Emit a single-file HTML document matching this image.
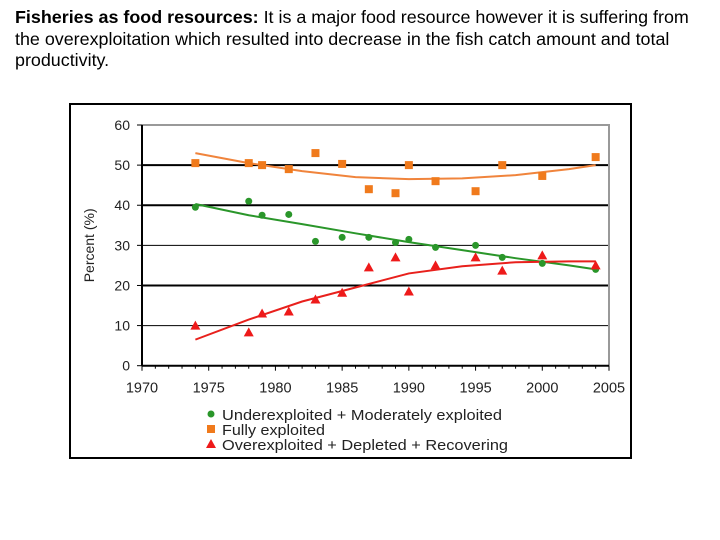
<!DOCTYPE html>
<html><head><meta charset="utf-8"><style>
body{margin:0;width:720px;height:540px;background:#fff;overflow:hidden;font-family:"Liberation Sans",Arial,sans-serif}
#txt{position:absolute;left:15px;top:7px;white-space:nowrap;font-size:17.9px;line-height:21.5px;color:#000}
#box{position:absolute;left:69px;top:103px;width:559px;height:352px;border:2px solid #000}
svg{position:absolute;left:0;top:0}
</style></head><body>
<div id="txt"><b>Fisheries as food resources:</b> It is a major food resource however it is suffering from<br>the overexploitation which resulted into decrease in the fish catch amount and total<br>productivity.</div>
<div id="box"></div>
<svg id="chart" width="720" height="540"></svg>
<script>
const years=[1974,1978,1979,1981,1983,1985,1987,1989,1990,1992,1995,1997,2000,2004];
const under=[39.5,41,37.5,37.7,31,32,32,30.7,31.5,29.5,30,27,25.5,24];
const fully=[50.5,50.5,50,49,53,50.3,44,43,50,46,43.5,50,47.3,52];
const over=[10,8.3,13,13.5,16.5,18.2,24.5,27,18.5,25,27,23.7,27.5,25];
const trendYears=[1974,1978,1982,1986,1990,1994,1998,2002,2004];
const underTrend=[40.3,37.5,35.3,33,30.8,28.8,26.8,25,24];
const fullyTrend=[53,50.5,48.5,47,46.5,46.7,47.5,49,50];
const overTrend=[6.5,11.5,16,19.5,23,24.8,25.8,26,26];
const xTicks=[1970,1975,1980,1985,1990,1995,2000,2005];
const yTicks=[0,10,20,30,40,50,60];
const X=v=>142+(v-1970)*(609-142)/35;
const Y=v=>365.7-v*(365.7-125)/60;
const svg=document.getElementById('chart');const NS='http://www.w3.org/2000/svg';
function mk(t,a,p){const e=document.createElementNS(NS,t);for(const k in a)e.setAttribute(k,a[k]);(p||svg).appendChild(e);return e;}
yTicks.forEach(v=>{if(v===0||v===60)return;const g=mk('line',{x1:X(1970),x2:X(2005),y1:Y(v),y2:Y(v),stroke:'#000','stroke-width':(v===10||v===30)?1:2});

});
const frame=mk('path',{d:`M${X(1970)},${Y(60)}H${X(2005)}V${Y(0)}`,fill:'none',stroke:'#999','stroke-width':2});


const ya=mk('line',{x1:X(1970),x2:X(1970),y1:Y(60),y2:Y(0),stroke:'#000','stroke-width':2});


const xa=mk('line',{x1:X(1970),x2:X(2005),y1:Y(0),y2:Y(0),stroke:'#000','stroke-width':2});


for(let y=1970;y<=2005;y++){mk('line',{x1:X(y),x2:X(y),y1:Y(0),y2:Y(0)+(y%5?3:5),stroke:'#000','stroke-width':1});}
yTicks.forEach(v=>{mk('line',{x1:X(1970)-5,x2:X(1970),y1:Y(v),y2:Y(v),stroke:'#000'});
const t=mk('text',{x:X(1970)-12,y:Y(v)+5,'text-anchor':'end','font-size':14,fill:'#222'});t.textContent=v;

});
xTicks.forEach(v=>{const t=mk('text',{x:X(v),y:Y(0)+27,'text-anchor':'middle','font-size':14.5,fill:'#222'});t.textContent=v;

});
const yt=mk('text',{x:0,y:0,transform:`translate(94,${Y(30)}) rotate(-90)`,'text-anchor':'middle','font-size':14,fill:'#222'});yt.textContent='Percent (%)';


function trend(vals,c,n){const p=mk('polyline',{points:trendYears.map((y,i)=>X(y)+','+Y(vals[i])).join(' '),fill:'none',stroke:c,'stroke-width':2});

}
trend(fullyTrend,'#f0843c','fully-trend');trend(underTrend,'#2a962a','under-trend');trend(overTrend,'#e8201c','over-trend');
function shape(kind,x,y,c){if(kind==='c')return mk('circle',{cx:x,cy:y,r:3.5,fill:c});if(kind==='s')return mk('rect',{x:x-4,y:y-4,width:8,height:8,fill:c});return mk('polygon',{points:`${x},${y-5} ${x+5},${y+4} ${x-5},${y+4}`,fill:c});}
years.forEach((y,i)=>{let e=shape('s',X(y),Y(fully[i]),'#f07a1c');


e=shape('c',X(y),Y(under[i]),'#2a962a');


e=shape('t',X(y),Y(over[i]),'#ee1a1a');

});
const leg=[['c','#2a962a','Underexploited + Moderately exploited',280],['s','#f07a1c','Fully exploited',103],['t','#ee1a1a','Overexploited + Depleted + Recovering',286]];
leg.forEach((l,i)=>{const y=415+i*15;const s=shape(l[0],211,y-1,l[1]);


const t=mk('text',{x:222,y:y+5,'font-size':15,fill:'#222',textLength:l[3],lengthAdjust:'spacingAndGlyphs'});t.textContent=l[2];

});
</script>
</body></html>
